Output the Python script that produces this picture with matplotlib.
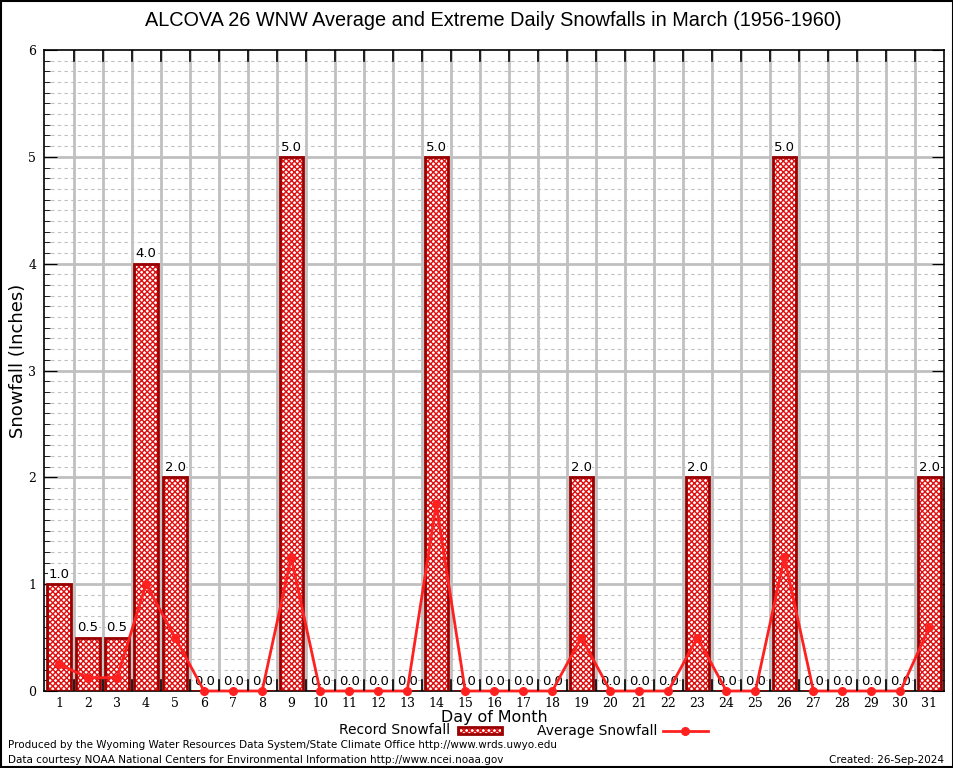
import numpy as np
import matplotlib
matplotlib.use("Agg")
import matplotlib.pyplot as plt
from matplotlib.patches import Rectangle
from matplotlib.lines import Line2D

# dados
dias = list(range(1, 32))
recorde = [1.0, 0.5, 0.5, 4.0, 2.0, 0.0, 0.0, 0.0, 5.0, 0.0,
           0.0, 0.0, 0.0, 5.0, 0.0, 0.0, 0.0, 0.0, 2.0, 0.0,
           0.0, 0.0, 2.0, 0.0, 0.0, 5.0, 0.0, 0.0, 0.0, 0.0, 2.0]
media = [0.25, 0.125, 0.125, 1.0, 0.5, 0.0, 0.0, 0.0, 1.25, 0.0,
         0.0, 0.0, 0.0, 1.75, 0.0, 0.0, 0.0, 0.0, 0.5, 0.0,
         0.0, 0.0, 0.5, 0.0, 0.0, 1.25, 0.0, 0.0, 0.0, 0.0, 0.6]

titulo = "ALCOVA 26 WNW Average and Extreme Daily Snowfalls in March (1956-1960)"
vermelho = "#ff2020"
borda = "#990000"
serif = "DejaVu Serif"

fig = plt.figure(figsize=(9.54, 7.68), dpi=100)
W, H = 954, 768
ax = fig.add_axes([44.5 / W, (H - 691) / H, (944 - 44.5) / W, (691 - 50) / H])

# grade
for y in np.arange(0.1, 6.0, 0.1):
    if abs(y - round(y)) > 1e-6:
        ax.axhline(y, color="#c0c0c0", lw=0.8, ls=(0, (3, 3)), zorder=0)
for y in range(1, 6):
    ax.axhline(y, color="#c0c0c0", lw=2, zorder=0)
for x in np.arange(1.5, 31.5, 1.0):
    ax.axvline(x, color="#c0c0c0", lw=2, zorder=0)

# barras com padrao quadriculado
ax.bar(dias, recorde, width=0.8, color="white", edgecolor="#e01010", hatch="xxxxxx", lw=0, zorder=2)
ax.bar(dias, recorde, width=0.8, fill=False, edgecolor=borda, lw=2, zorder=3)
for d, r in zip(dias, recorde):
    ax.text(d, r + 0.03, f"{r:.1f}", ha="center", va="bottom", fontsize=9.5, zorder=4,
            bbox=dict(facecolor="white", edgecolor="none", pad=0.5))

ax.plot(dias, media, color=vermelho, lw=2, marker="o", ms=5.5, zorder=5, clip_on=False)

ax.set_xlim(0.5, 31.5)
ax.set_ylim(0, 6)
ax.set_xticks(dias)
ax.set_xticklabels([str(d) for d in dias], fontfamily=serif, fontsize=9)
ax.set_yticks(range(7))
ax.set_yticklabels([str(i) for i in range(7)], fontfamily=serif, fontsize=9)
ax.set_yticks(np.arange(0, 6.01, 0.1), minor=True)
ax.tick_params(axis="x", which="both", length=0, pad=4)
ax.tick_params(axis="y", which="major", direction="in", length=9, right=True, pad=6)
ax.tick_params(axis="y", which="minor", direction="in", length=4, right=True)
for x in np.arange(1.5, 31.5, 1.0):
    ax.plot([x, x], [6, 5.9], color="black", lw=1.2, zorder=6)
    ax.plot([x, x], [0, 0.1], color="black", lw=1.2, zorder=6)
for s in ax.spines.values():
    s.set_linewidth(1.2)

fig.text(493 / W, 1 - 20 / H, titulo, ha="center", va="center", fontsize=14.3, fontfamily="Liberation Sans")
fig.text(18 / W, 1 - 361 / H, "Snowfall (Inches)", rotation=90, ha="center", va="center", fontsize=13)
fig.text(494 / W, 1 - 717.5 / H, "Day of Month", ha="center", va="center", fontsize=11.4)

# legenda
yl = 1 - 730.5 / H
fig.text(450 / W, yl, "Record Snowfall", ha="right", va="center", fontsize=10)
fig.patches.append(Rectangle((458 / W, yl - 3.5 / H), 44 / W, 7 / H, transform=fig.transFigure,
                             facecolor="white", edgecolor="#e01010", hatch="xxxxxx", lw=0))
fig.patches.append(Rectangle((458 / W, yl - 3.5 / H), 44 / W, 7 / H, transform=fig.transFigure,
                             fill=False, edgecolor=borda, lw=2))
fig.text(537 / W, yl, "Average Snowfall", ha="left", va="center", fontsize=10)
fig.lines.append(Line2D([663 / W, 708 / W], [yl, yl], transform=fig.transFigure,
                        color=vermelho, lw=2))
fig.lines.append(Line2D([685 / W], [yl], transform=fig.transFigure,
                        color=vermelho, marker="o", ms=5.5))

fig.text(8 / W, 1 - 745 / H, "Produced by the Wyoming Water Resources Data System/State Climate Office http://www.wrds.uwyo.edu",
         ha="left", va="center", fontsize=7.5)
fig.text(8 / W, 1 - 760 / H, "Data courtesy NOAA National Centers for Environmental Information http://www.ncei.noaa.gov",
         ha="left", va="center", fontsize=7.5)
fig.text(944 / W, 1 - 760 / H, "Created: 26-Sep-2024", ha="right", va="center", fontsize=7.5)

fig.patches.append(Rectangle((0.001, 0.001), 0.998, 0.998, transform=fig.transFigure,
                             fill=False, edgecolor="black", lw=1.5))

fig.savefig("out.png", dpi=100)
